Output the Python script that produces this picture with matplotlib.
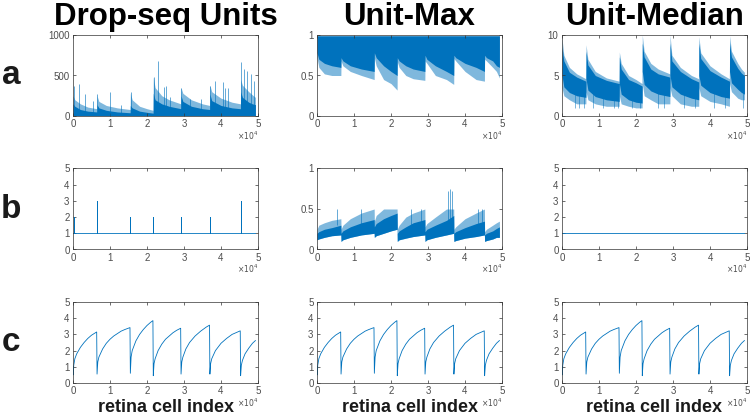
import matplotlib
matplotlib.use('Agg')
import matplotlib.pyplot as plt
import numpy as np

plt.rcParams['font.family'] = ['Liberation Sans', 'DejaVu Sans']

BLUE = '#0072BD'

# envelope sample positions (units of 1e4 cells), 5 per batch segment
env_x = [0.00, 0.05, 0.20, 0.40, 0.645,
         0.65, 0.70, 0.90, 1.20, 1.545,
         1.55, 1.60, 1.80, 2.00, 2.165,
         2.17, 2.22, 2.40, 2.60, 2.915,
         2.92, 2.97, 3.20, 3.50, 3.695,
         3.70, 3.75, 4.00, 4.30, 4.525,
         4.53, 4.58, 4.75, 4.85, 4.93]

# a / Drop-seq Units
units_dense = [150, 120, 80, 60, 50,
               140, 100, 70, 50, 40,
               130, 100, 60, 45, 35,
               280, 200, 150, 120, 90,
               250, 180, 120, 90, 80,
               270, 190, 130, 100, 90,
               300, 230, 170, 150, 140]
units_sparse = [250, 200, 150, 110, 90,
                250, 180, 130, 100, 80,
                280, 200, 120, 90, 70,
                480, 350, 250, 200, 150,
                350, 280, 200, 150, 130,
                380, 300, 220, 170, 150,
                450, 380, 300, 260, 230]
units_spike_x = [0.02, 0.15, 0.32, 0.55, 0.66, 1.00, 1.30, 1.56, 2.18, 2.30, 2.45,
                 2.52, 2.62, 2.93, 3.15, 3.45, 3.71, 3.85, 4.05, 4.12, 4.20,
                 4.55, 4.62, 4.70, 4.80, 4.90]
units_spike_y = [370, 390, 270, 180, 270, 300, 140, 300, 480, 680, 360,
                 370, 230, 350, 210, 210, 370, 430, 420, 340, 340,
                 670, 580, 560, 520, 430]

# a / Unit-Max
max_dense_low = [0.78, 0.70, 0.65, 0.62, 0.60,
                 0.72, 0.68, 0.62, 0.58, 0.55,
                 0.78, 0.72, 0.62, 0.55, 0.50,
                 0.72, 0.68, 0.62, 0.58, 0.55,
                 0.75, 0.70, 0.62, 0.55, 0.50,
                 0.75, 0.72, 0.65, 0.60, 0.55,
                 0.75, 0.72, 0.68, 0.62, 0.60]
max_sparse_low = [0.72, 0.60, 0.52, 0.50, 0.50,
                  0.68, 0.62, 0.55, 0.50, 0.45,
                  0.72, 0.62, 0.45, 0.40, 0.32,
                  0.67, 0.60, 0.50, 0.46, 0.44,
                  0.68, 0.65, 0.50, 0.45, 0.39,
                  0.71, 0.68, 0.55, 0.45, 0.43,
                  0.70, 0.68, 0.60, 0.55, 0.47]

# a / Unit-Median
med_top = [9.6, 7.5, 6.0, 5.2, 4.6,
           8.8, 7.0, 5.5, 4.7, 4.3,
           7.9, 6.5, 5.0, 4.5, 4.0,
           10.0, 8.0, 6.5, 5.8, 5.2,
           10.0, 7.5, 6.0, 5.0, 4.6,
           9.8, 7.8, 6.2, 5.2, 4.6,
           9.9, 8.0, 6.5, 5.8, 5.4]
med_hi = [8.5, 6.8, 5.4, 4.8, 4.3,
          8.0, 6.3, 5.0, 4.4, 4.0,
          7.3, 5.8, 4.5, 4.1, 3.7,
          9.0, 7.3, 5.8, 5.2, 4.8,
          9.0, 6.8, 5.5, 4.6, 4.2,
          9.0, 7.1, 5.6, 4.8, 4.3,
          9.0, 7.3, 5.9, 5.3, 5.0]
med_lo = [5.0, 3.6, 2.9, 2.5, 2.3,
          4.6, 3.2, 2.4, 2.0, 1.8,
          4.0, 2.7, 2.0, 1.7, 1.6,
          5.5, 3.9, 3.1, 2.7, 2.4,
          5.0, 3.6, 2.7, 2.2, 2.0,
          5.0, 3.8, 2.9, 2.4, 2.2,
          5.5, 4.1, 3.3, 2.9, 2.7]
med_bot = [3.5, 2.5, 2.0, 1.5, 1.5,
           3.0, 2.0, 1.5, 1.2, 1.2,
           2.5, 1.5, 1.2, 1.0, 1.0,
           4.0, 2.5, 2.0, 1.5, 1.5,
           3.5, 2.5, 1.5, 1.2, 1.2,
           3.5, 2.5, 1.8, 1.5, 1.2,
           4.0, 3.0, 2.2, 2.0, 2.0]
med_dip_x = [0.35, 0.45, 0.60, 0.85, 1.10, 1.40, 1.50, 1.90, 2.10, 2.60, 2.75,
             3.30, 3.60, 4.10, 4.40, 4.90]
med_dip_y = [1.0] * len(med_dip_x)

# b / Drop-seq Units: 1 everywhere, peaks at batch starts
units_ratio_x = [0.02, 0.65, 1.55, 2.17, 2.92, 3.70, 4.53]
units_ratio_y = [2, 3, 2, 2, 2, 2, 3]

# b / Unit-Max
ratio_low = [0.12, 0.13, 0.15, 0.17, 0.18,
             0.10, 0.12, 0.15, 0.18, 0.20,
             0.15, 0.17, 0.20, 0.23, 0.25,
             0.10, 0.12, 0.14, 0.16, 0.18,
             0.10, 0.12, 0.15, 0.18, 0.20,
             0.10, 0.11, 0.14, 0.16, 0.18,
             0.10, 0.11, 0.13, 0.15, 0.15]
ratio_hi = [0.20, 0.22, 0.25, 0.27, 0.30,
            0.20, 0.23, 0.28, 0.33, 0.37,
            0.28, 0.32, 0.38, 0.42, 0.45,
            0.20, 0.23, 0.28, 0.33, 0.37,
            0.22, 0.25, 0.30, 0.36, 0.42,
            0.20, 0.22, 0.27, 0.32, 0.35,
            0.18, 0.20, 0.23, 0.26, 0.28]
ratio_top = [0.25, 0.30, 0.33, 0.36, 0.38,
             0.25, 0.30, 0.38, 0.45, 0.50,
             0.35, 0.42, 0.50, 0.50, 0.50,
             0.25, 0.30, 0.40, 0.45, 0.50,
             0.28, 0.32, 0.40, 0.50, 0.50,
             0.25, 0.28, 0.38, 0.45, 0.50,
             0.22, 0.25, 0.30, 0.33, 0.35]
ratio_spike_x = [0.55, 1.20, 2.55, 2.80, 3.55, 3.60, 3.65, 4.35, 4.45]
ratio_spike_y = [0.50, 0.50, 0.50, 0.50, 0.72, 0.75, 0.72, 0.50, 0.50]

# c / same curve in all columns
c_x = [0.00, 0.01, 0.02, 0.05, 0.10, 0.20, 0.30, 0.40, 0.50, 0.64,
       0.65, 0.67, 0.70, 0.80, 0.90, 1.00, 1.10, 1.20, 1.30, 1.40, 1.54,
       1.55, 1.57, 1.60, 1.70, 1.80, 1.90, 2.00, 2.10, 2.16,
       2.17, 2.19, 2.22, 2.30, 2.40, 2.50, 2.60, 2.70, 2.80, 2.91,
       2.92, 2.94, 2.97, 3.05, 3.15, 3.30, 3.45, 3.60, 3.69,
       3.70, 3.72, 3.75, 3.85, 4.00, 4.15, 4.30, 4.45, 4.52,
       4.53, 4.55, 4.58, 4.65, 4.75, 4.85, 4.93]
c_y = [1.00, 0.50, 1.10, 1.50, 1.80, 2.20, 2.50, 2.75, 2.95, 3.15,
       0.55, 1.30, 1.60, 2.10, 2.45, 2.70, 2.90, 3.05, 3.20, 3.30, 3.42,
       0.60, 1.60, 2.00, 2.60, 3.00, 3.30, 3.55, 3.75, 3.85,
       0.45, 1.20, 1.50, 2.00, 2.40, 2.70, 2.90, 3.10, 3.25, 3.38,
       0.55, 1.30, 1.60, 2.10, 2.50, 2.90, 3.20, 3.45, 3.57,
       0.55, 1.20, 1.50, 2.00, 2.45, 2.75, 3.00, 3.15, 3.22,
       0.45, 1.10, 1.40, 1.80, 2.15, 2.45, 2.62]

titles = ['Drop-seq Units', 'Unit-Max', 'Unit-Median']
row_labels = ['a', 'b', 'c']
x_scale = 1e4
n_cells = 49300


def style(ax, yticks, yticklabels):
    ax.set_xlim(0, 5e4)
    ax.set_ylim(yticks[0], yticks[-1])
    ax.set_xticks([i * x_scale for i in range(6)])
    ax.set_xticklabels([str(i) for i in range(6)])
    ax.set_yticks(yticks)
    ax.set_yticklabels(yticklabels)
    ax.tick_params(direction='in', top=True, right=True, length=2.5, width=0.5,
                   labelsize=7, labelcolor='#4d4d4d', color='#333333', pad=2.5)
    for s in ax.spines.values():
        s.set_linewidth(0.5)
        s.set_color('#333333')
    ax.text(1.0, -0.24, r'$\times10^{4}$', transform=ax.transAxes, ha='right', va='center',
            fontsize=5.5, color='#4d4d4d')


fig = plt.figure(figsize=(7.5, 4.19), dpi=100)
lefts = [73 / 750, 317 / 750, 562 / 750]
bottoms = [1 - 116 / 419, 1 - 249.5 / 419, 1 - 383 / 419]
w = 185 / 750
h = 81 / 419
axes = [[fig.add_axes([lefts[c], bottoms[r], w, h]) for c in range(3)] for r in range(3)]

ex = np.array(env_x) * x_scale

# row a
ax = axes[0][0]
ax.fill_between(ex, 5, units_sparse, color=BLUE, alpha=0.5, lw=0)
ax.fill_between(ex, 5, units_dense, color=BLUE, lw=0)
ax.vlines(np.array(units_spike_x) * x_scale, 0, units_spike_y, color=BLUE, lw=0.6, alpha=0.7)
style(ax, [0, 500, 1000], ['0', '500', '1000'])

ax = axes[0][1]
ax.fill_between(ex, max_sparse_low, 0.99, color=BLUE, alpha=0.5, lw=0)
ax.fill_between(ex, max_dense_low, 0.99, color=BLUE, lw=0)
style(ax, [0, 0.5, 1], ['0', '0.5', '1'])

ax = axes[0][2]
ax.fill_between(ex, med_bot, med_top, color=BLUE, alpha=0.5, lw=0)
ax.fill_between(ex, med_lo, med_hi, color=BLUE, lw=0)
ax.vlines(np.array(med_dip_x) * x_scale, med_dip_y, 3, color=BLUE, lw=0.6, alpha=0.6)
style(ax, [0, 5, 10], ['0', '5', '10'])

# row b
ax = axes[1][0]
bx, by = [0], [1]
for px, py in zip(units_ratio_x, units_ratio_y):
    bx += [px * x_scale] * 3
    by += [1, py, 1]
bx.append(n_cells)
by.append(1)
ax.plot(bx, by, color=BLUE, lw=0.6)
style(ax, [0, 1, 2, 3, 4, 5], ['0', '1', '2', '3', '4', '5'])

ax = axes[1][1]
ax.fill_between(ex, ratio_low, ratio_top, color=BLUE, alpha=0.5, lw=0)
ax.fill_between(ex, ratio_low, ratio_hi, color=BLUE, lw=0)
ax.vlines(np.array(ratio_spike_x) * x_scale, 0.3, ratio_spike_y, color=BLUE, lw=0.6, alpha=0.7)
style(ax, [0, 0.5, 1], ['0', '0.5', '1'])

ax = axes[1][2]
ax.plot([0, n_cells], [1, 1], color=BLUE, lw=0.6)
style(ax, [0, 1, 2, 3, 4, 5], ['0', '1', '2', '3', '4', '5'])

# row c
for c in range(3):
    ax = axes[2][c]
    ax.plot(np.array(c_x) * x_scale, c_y, color=BLUE, lw=0.6)
    style(ax, [0, 1, 2, 3, 4, 5], ['0', '1', '2', '3', '4', '5'])

for c, t in enumerate(titles):
    xc = lefts[c] + w / 2
    fig.text(xc, 1 - 25 / 419, t, ha='center', va='baseline', fontsize=22.5, fontweight='bold')
    fig.text(xc, 1 - 412 / 419, 'retina cell index', ha='center', va='baseline',
             fontsize=13, fontweight='bold', color='#1a1a1a')

for r, lab in enumerate(row_labels):
    yc = bottoms[r] + h / 2
    fig.text(11 / 750, yc, lab, ha='center', va='center', fontsize=24, fontweight='bold',
             color='#1a1a1a')

fig.savefig('out.png', dpi=100)
